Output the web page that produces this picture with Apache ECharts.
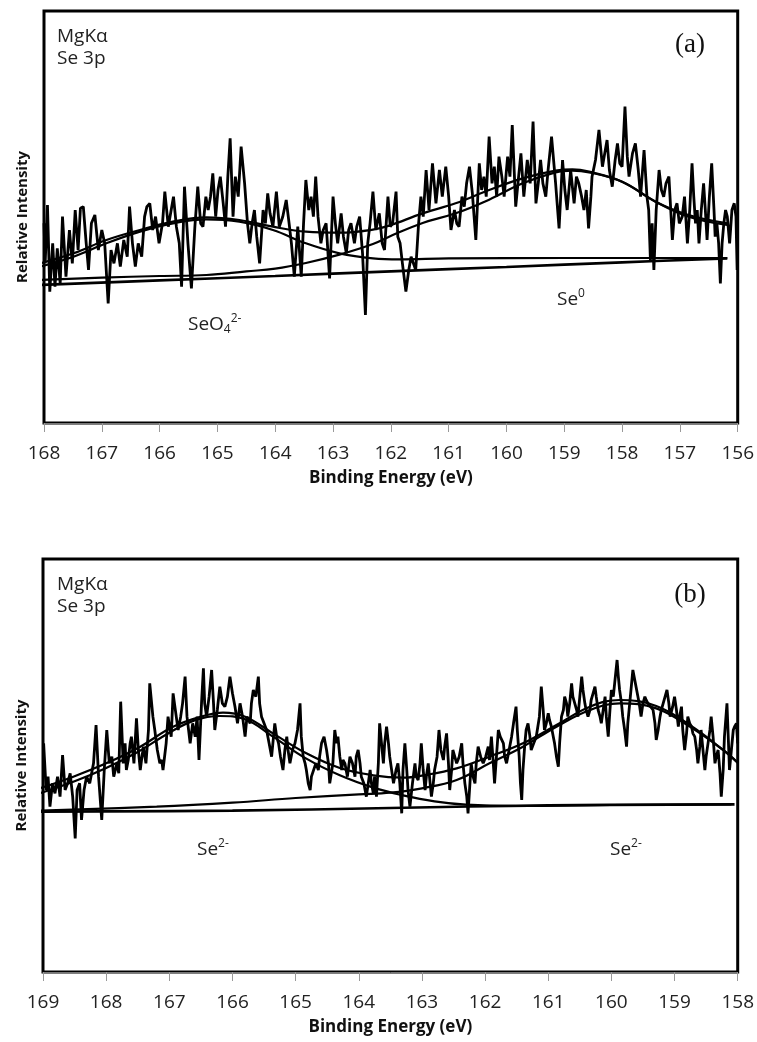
<!DOCTYPE html>
<html>
<head>
<meta charset="utf-8">
<script src="https://cdn.jsdelivr.net/npm/echarts@6/dist/echarts.min.js"></script>
<style>
html,body{margin:0;padding:0;background:#fff;}
#c{width:757px;height:1042px;}
</style>
</head>
<body>
<div id="c"></div>
<script>
// ---------- Panel (a): Se 3p, MgKα ----------
const ticksA = [156, 168];
const rawA = [
[168.00,599],[167.98,479],[167.94,654],[167.90,394],[167.85,539],[167.81,409],[167.77,524],[167.72,419],[167.68,619],[167.62,439],[167.56,579],[167.51,479],[167.46,639],[167.41,519],[167.37,644],[167.32,649],[167.27,539],[167.23,459],[167.18,599],[167.12,624],[167.06,519],[167.00,579],[166.95,539],[166.89,359],[166.84,519],[166.79,479],[166.73,539],[166.68,469],[166.62,549],[166.56,499],[166.52,649],[166.47,539],[166.42,469],[166.37,539],[166.31,499],[166.26,619],[166.22,649],[166.17,659],[166.12,579],[166.07,619],[166.01,539],[165.95,599],[165.91,694],[165.85,589],[165.80,639],[165.76,679],[165.71,589],[165.66,539],[165.62,409],[165.57,709],[165.51,539],[165.45,404],[165.39,589],[165.34,709],[165.29,599],[165.25,589],[165.20,679],[165.16,639],[165.12,679],[165.08,749],[165.03,619],[164.99,699],[164.95,739],[164.90,659],[164.86,589],[164.82,739],[164.78,854],[164.73,619],[164.69,739],[164.64,679],[164.59,829],[164.53,719],[164.48,599],[164.44,539],[164.40,599],[164.36,639],[164.32,559],[164.27,479],[164.21,639],[164.17,599],[164.13,689],[164.09,629],[164.04,589],[163.98,694],[163.93,589],[163.87,619],[163.81,669],[163.76,599],[163.72,539],[163.67,439],[163.61,589],[163.55,439],[163.51,599],[163.47,729],[163.42,639],[163.38,679],[163.34,619],[163.30,739],[163.26,619],[163.21,539],[163.17,579],[163.12,599],[163.06,434],[163.00,679],[162.96,599],[162.92,539],[162.86,629],[162.82,559],[162.77,509],[162.73,579],[162.69,599],[162.63,539],[162.59,589],[162.54,619],[162.49,509],[162.44,324],[162.40,539],[162.36,599],[162.31,694],[162.26,579],[162.20,629],[162.15,539],[162.11,519],[162.05,679],[162.01,589],[161.97,599],[161.91,694],[161.88,559],
[161.84,539],[161.80,479],[161.74,394],[161.69,459],[161.65,499],[161.61,479],[161.57,459],[161.52,599],[161.48,679],[161.44,619],[161.39,759],[161.34,639],[161.28,779],[161.22,659],[161.16,759],[161.11,679],[161.05,769],[161.00,679],[160.96,579],[160.90,639],[160.86,599],[160.82,589],[160.77,679],[160.73,649],[160.69,719],[160.64,769],[160.59,689],[160.53,549],[160.47,779],[160.43,699],[160.39,739],[160.35,679],[160.30,859],[160.25,719],[160.21,769],[160.17,679],[160.13,799],[160.08,739],[160.04,679],[159.98,799],[159.94,739],[159.90,894],[159.84,649],[159.79,739],[159.75,809],[159.70,679],[159.64,789],[159.59,719],[159.54,904],[159.49,659],[159.45,719],[159.41,789],[159.37,719],[159.32,679],[159.28,759],[159.22,859],[159.18,779],[159.15,719],[159.09,584],[159.03,789],[158.99,699],[158.95,639],[158.89,759],[158.83,659],[158.79,739],[158.75,719],[158.70,679],[158.66,639],[158.62,699],[158.58,584],[158.54,679],[158.52,739],[158.46,789],[158.40,879],[158.34,769],[158.30,809],[158.26,849],[158.22,759],[158.17,709],[158.12,789],[158.08,839],[158.04,779],[158.00,769],[157.95,949],[157.91,799],[157.88,739],[157.82,809],[157.77,839],[157.72,759],[157.68,679],[157.62,819],[157.57,679],[157.54,639],[157.51,489],[157.48,599],[157.45,459],[157.41,639],[157.36,759],[157.32,699],[157.28,679],[157.24,719],[157.19,739],[157.13,549],[157.09,639],[157.05,659],[157.01,599],[156.96,619],[156.92,679],[156.87,539],[156.83,639],[156.79,779],[156.76,679],[156.73,599],[156.70,639],[156.67,539],[156.63,639],[156.59,719],[156.56,639],[156.53,549],[156.49,679],[156.45,779],[156.41,639],[156.39,559],[156.36,599],[156.33,539],[156.30,419],[156.27,539],[156.24,599],[156.21,639],[156.18,619],[156.14,539],[156.10,639],[156.06,659],[156.03,619],[156.01,459]
];
const envelopeA = [[168.07,479],[167.49,509],[166.92,549],[166.34,579],[165.77,604],[165.19,617],[164.62,609],[164.04,589],[163.47,574],[162.89,571],[162.31,580],[162.03,592],[161.45,629],[160.88,659],[160.30,699],[159.72,734],[159.15,757],[158.86,761],[158.57,754],[158.00,724],[157.42,664],[156.85,624],[156.18,599]];
const seo4A = [[168.07,469],[167.49,499],[166.92,539],[166.34,574],[165.77,599],[165.19,611],[164.62,604],[164.04,579],[163.47,539],[162.89,509],[162.31,494],[161.85,491],[161.00,494],[159.00,495],[156.18,495]];
const se0A = [[168.07,429],[167.00,436],[166.00,441],[165.19,444],[164.50,455],[164.00,463],[163.47,480],[162.89,505],[162.31,537],[162.03,559],[161.45,600],[160.88,629],[160.30,670],[159.72,719],[159.15,752],[158.86,757],[158.57,752],[158.00,724],[157.42,664],[156.85,619],[156.18,594]];
const bgA = [[168.07,414],[166.00,428],[164.00,441],[162.00,455],[160.00,468],[158.00,482],[156.18,494]];

// ---------- Panel (b): Se 3p, MgKα ----------
const ticksB = [158, 169];
const rawB = [
[168.99,686],[168.95,546],[168.92,586],[168.89,496],[168.85,566],[168.81,536],[168.77,586],[168.73,526],[168.69,651],[168.65,546],[168.61,566],[168.57,596],[168.53,526],[168.49,401],[168.46,546],[168.42,566],[168.39,456],[168.35,546],[168.31,586],[168.26,566],[168.20,626],[168.16,741],[168.12,586],[168.07,456],[168.03,606],[167.99,726],[167.95,626],[167.91,646],[167.88,586],[167.83,626],[167.80,596],[167.77,811],[167.73,626],[167.70,686],[167.68,606],[167.65,636],[167.62,686],[167.60,706],[167.56,626],[167.52,761],[167.49,666],[167.46,606],[167.44,636],[167.41,676],[167.37,626],[167.33,726],[167.31,866],[167.26,766],[167.23,726],[167.19,666],[167.15,626],[167.12,636],[167.10,606],[167.05,686],[167.02,766],[166.97,706],[166.94,836],[166.89,766],[166.86,726],[166.82,766],[166.79,806],[166.75,886],[166.72,766],[166.67,686],[166.63,746],[166.59,706],[166.56,766],[166.53,636],[166.49,806],[166.46,911],[166.44,806],[166.41,766],[166.37,826],[166.33,906],[166.30,806],[166.28,726],[166.24,786],[166.20,856],[166.16,806],[166.12,796],[166.08,826],[166.04,886],[166.00,836],[165.96,796],[165.92,746],[165.88,806],[165.84,766],[165.80,706],[165.77,766],[165.72,746],[165.70,806],[165.67,846],[165.63,826],[165.59,886],[165.57,806],[165.54,766],[165.50,746],[165.46,726],[165.42,686],[165.38,646],[165.35,706],[165.33,746],[165.30,706],[165.27,686],[165.24,646],[165.20,606],[165.17,666],[165.14,706],[165.12,666],[165.09,626],[165.05,666],[165.01,686],[164.97,726],[164.93,806],[164.91,706],[164.88,646],[164.85,626],[164.83,606],[164.80,566],[164.77,546],[164.75,586],[164.72,586],[164.68,626],[164.64,606],[164.62,646],[164.59,686],[164.55,706],[164.51,666],[164.48,626],[164.46,566],[164.41,626],[164.38,726],[164.35,686],[164.33,706],[164.30,646],[164.27,606],[164.25,636],[164.22,626],[164.18,586],[164.14,646],[164.10,626],[164.06,586],[164.04,646],[164.01,666],[163.98,626],[163.96,586],[163.92,566],[163.88,526],[163.85,566],[163.82,606],[163.80,566],[163.77,536],[163.75,586],[163.72,526],[163.69,626],[163.67,746],[163.64,686],[163.61,626],[163.59,686],[163.56,736],[163.53,686],[163.51,646],[163.48,606],[163.45,566],[163.41,606],[163.38,626],
[163.35,566],[163.32,476],[163.30,606],[163.27,686],[163.24,606],[163.22,546],[163.19,496],[163.15,566],[163.11,626],[163.09,586],[163.06,576],[163.03,626],[163.01,686],[162.98,606],[162.95,546],[162.93,586],[162.90,626],[162.87,566],[162.85,526],[162.82,566],[162.80,606],[162.76,646],[162.73,726],[162.70,666],[162.66,636],[162.64,676],[162.61,716],[162.58,626],[162.56,546],[162.53,606],[162.51,666],[162.48,646],[162.45,626],[162.41,646],[162.37,686],[162.35,626],[162.32,566],[162.29,526],[162.27,476],[162.24,566],[162.22,626],[162.19,586],[162.16,566],[162.14,626],[162.11,676],[162.07,646],[162.03,626],[161.99,646],[161.95,676],[161.93,636],[161.90,706],[161.87,626],[161.85,566],[161.82,646],[161.79,726],[161.76,706],[161.71,686],[161.69,646],[161.66,626],[161.62,666],[161.58,706],[161.55,746],[161.51,796],[161.49,726],[161.46,646],[161.44,566],[161.42,516],[161.40,606],[161.37,686],[161.35,726],[161.32,746],[161.29,706],[161.27,666],[161.23,686],[161.19,706],[161.14,766],[161.11,856],[161.08,786],[161.06,726],[161.03,746],[161.00,776],[160.98,756],[160.95,736],[160.92,706],[160.90,686],[160.87,646],[160.84,616],[160.82,686],[160.79,766],[160.76,786],[160.74,826],[160.71,806],[160.69,766],[160.66,806],[160.63,866],[160.61,826],[160.58,806],[160.55,786],[160.53,766],[160.50,826],[160.47,886],[160.45,846],[160.42,806],[160.40,786],[160.37,766],[160.34,786],[160.32,816],[160.29,836],[160.26,856],[160.24,826],[160.21,786],[160.18,766],[160.16,746],[160.13,786],[160.10,826],[160.08,766],[160.05,706],[160.03,766],[160.00,846],[159.97,826],[159.95,826],[159.91,936],[159.89,886],[159.87,846],[159.84,806],[159.82,766],[159.79,726],[159.76,676],[159.74,746],[159.71,806],[159.68,866],[159.66,906],[159.63,876],[159.60,846],[159.56,806],[159.53,766],[159.50,806],[159.47,826],[159.45,816],[159.42,806],[159.38,796],[159.34,786],[159.31,746],[159.29,696],[159.26,726],[159.23,766],[159.21,786],[159.18,806],[159.15,826],[159.12,846],[159.09,806],[159.07,766],[159.03,796],[159.00,826],[158.97,786],[158.94,736],[158.92,766],[158.89,796],[158.87,726],[158.84,666],[158.81,716],[158.79,766],[158.76,746],[158.73,736],[158.71,716],[158.68,706],[158.65,666],[158.63,626],[158.60,676],[158.58,726],[158.55,666],[158.52,606],[158.50,646],[158.47,686],[158.44,726],[158.42,766],[158.39,706],[158.36,626],[158.34,646],[158.31,666],[158.28,596],[158.26,526],[158.23,606],[158.21,706],[158.19,756],[158.17,806],[158.15,706],[158.13,606],[158.10,666],[158.07,726],[158.05,736],[158.02,746],[158.00,686]
];
const envelopeB = [[169.05,551],[168.52,586],[168.00,626],[167.46,676],[166.94,736],[166.40,771],[166.15,778],[165.80,766],[165.36,716],[164.83,656],[164.30,612],[163.77,590],[163.30,583],[162.98,590],[162.45,611],[161.93,646],[161.40,686],[160.87,741],[160.34,796],[159.87,816],[159.29,798],[158.76,741],[158.23,666],[157.99,626]];
const comp1B = [[169.05,536],[168.50,572],[168.00,612],[167.50,660],[167.00,718],[166.60,755],[166.20,768],[165.80,758],[165.36,706],[164.83,640],[164.30,590],[163.77,553],[163.30,530],[162.80,512],[162.30,502],[161.50,498],[160.00,501],[158.10,503]];
const comp2B = [[169.05,484],[167.20,496],[166.00,508],[165.00,522],[164.00,533],[163.50,538],[163.00,551],[162.45,576],[161.93,626],[161.40,676],[160.87,736],[160.34,786],[159.87,806],[159.29,791],[158.76,736],[158.23,666],[157.99,626]];
const bgB = [[169.05,481],[166.00,484],[163.50,492],[161.00,500],[158.05,503]];

const black = '#000';
function lineSeries(data, gi, w, smooth) {
  return {
    type: 'line', xAxisIndex: gi, yAxisIndex: gi, data: data,
    showSymbol: false, symbol: 'none', smooth: smooth ? 0.4 : false,
    lineStyle: { color: black, width: w }, silent: true, animation: false
  };
}
function xAx(gi, mn, mx) {
  return {
    type: 'value', gridIndex: gi, inverse: true, min: mn, max: mx, interval: 1,
    name: 'Binding Energy (eV)', nameLocation: 'middle', nameGap: 47,
    nameTextStyle: { fontFamily: 'Open Sans', fontWeight: 'bold', fontSize: 17, color: '#111' },
    axisLine: { show: true, onZero: false, lineStyle: { color: '#777', width: 1 } },
    axisTick: { show: true, inside: false, length: 9, lineStyle: { color: '#999', width: 1 } },
    axisLabel: { show: true, margin: 21, fontFamily: 'Open Sans', fontSize: 19, color: '#222' },
    splitLine: { show: false }
  };
}
function yAx(gi, mx) {
  return {
    type: 'value', gridIndex: gi, min: 0, max: mx,
    name: 'Relative Intensity', nameLocation: 'middle', nameGap: 14,
    nameTextStyle: { fontFamily: 'Open Sans', fontWeight: 'bold', fontSize: 15, color: '#111' },
    axisLine: { show: false }, axisTick: { show: false }, axisLabel: { show: false },
    splitLine: { show: false }
  };
}
const supRich = {
  b: { fontFamily: 'Open Sans', fontSize: 19, color: '#222' },
  sub: { fontFamily: 'Open Sans', fontSize: 12, color: '#222', padding: [10, 0, 0, 0] },
  sup: { fontFamily: 'Open Sans', fontSize: 12, color: '#222', padding: [0, 0, 12, 0] }
};
function txt(text, x, y, extra) {
  return Object.assign({ type: 'text', x: x, y: y, silent: true,
    style: Object.assign({ text: text, fontFamily: 'Open Sans', fontSize: 19, fill: '#222',
      align: 'left', verticalAlign: 'middle' }, extra || {}) });
}
function richTxt(text, x, y) {
  return { type: 'text', x: x, y: y, silent: true,
    style: { text: text, rich: supRich, align: 'left', verticalAlign: 'middle', fill: '#222' } };
}

const chart = echarts.init(document.getElementById('c'), null, { renderer: 'canvas' });
chart.setOption({
  animation: false,
  backgroundColor: '#fff',
  grid: [
    { left: 44, top: 11, width: 695, height: 412, show: true, borderColor: '#000', borderWidth: 3, backgroundColor: 'transparent' },
    { left: 43, top: 559, width: 695, height: 413, show: true, borderColor: '#000', borderWidth: 3, backgroundColor: 'transparent' }
  ],
  xAxis: [xAx(0, ticksA[0], ticksA[1]), xAx(1, ticksB[0], ticksB[1])],
  yAxis: [yAx(0, 1236), yAx(1, 1239)],
  series: [
    lineSeries(bgA, 0, 2.6, true),
    lineSeries(se0A, 0, 2.2, true),
    lineSeries(seo4A, 0, 2.2, true),
    lineSeries(envelopeA, 0, 2.2, true),
    lineSeries(rawA, 0, 2.8, false),
    lineSeries(bgB, 1, 2.6, true),
    lineSeries(comp1B, 1, 2.2, true),
    lineSeries(comp2B, 1, 2.2, true),
    lineSeries(envelopeB, 1, 2.2, true),
    lineSeries(rawB, 1, 2.8, false)
  ],
  graphic: [
    txt('MgKα', 57, 37),
    txt('Se 3p', 57, 59),
    txt('(a)', 690, 45, { fontFamily: 'Liberation Serif', fontSize: 27, fill: '#111', align: 'center' }),
    richTxt('{b|SeO}{sub|4}{sup|2-}', 188, 325),
    richTxt('{b|Se}{sup|0}', 557, 300),
    txt('MgKα', 57, 585),
    txt('Se 3p', 57, 607),
    txt('(b)', 690, 595, { fontFamily: 'Liberation Serif', fontSize: 27, fill: '#111', align: 'center' }),
    richTxt('{b|Se}{sup|2-}', 197, 850),
    richTxt('{b|Se}{sup|2-}', 610, 850)
  ]
});
</script>
</body>
</html>
